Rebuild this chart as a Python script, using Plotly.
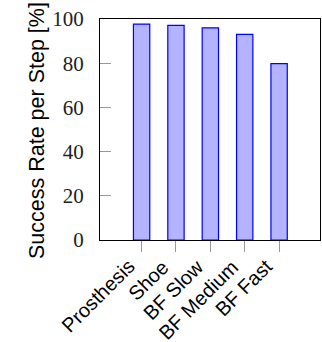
import plotly.graph_objects as go

categories = ["Prosthesis", "Shoe", "BF Slow", "BF Medium", "BF Fast"]
success_rate = [97.7, 97.1, 96.0, 93.0, 79.8]
y_ticks = [0, 20, 40, 60, 80, 100]

W, H = 322, 342
L, R, T, B = 100, 2, 19, 102
pw = W - L - R
ph = H - T - B

fig = go.Figure()
fig.add_trace(go.Bar(
    x=list(range(len(categories))),
    y=success_rate,
    width=0.475,
    marker=dict(color="rgb(179,179,255)", line=dict(color="rgb(0,0,255)", width=1.2)),
    showlegend=False,
))

annotations = [dict(
    text="Success Rate per Step [%]",
    xref="paper", yref="paper",
    x=(37 - L) / pw, y=(240 - 131) / ph,
    xanchor="center", yanchor="middle",
    textangle=-90, showarrow=False,
    font=dict(family="Liberation Sans", size=21.5, color="black"),
)]
for i, name in enumerate(categories):
    annotations.append(dict(
        text=name, xref="x", yref="paper", x=i, y=0,
        xanchor="right", yanchor="top", xshift=0, yshift=-13,
        textangle=-45, showarrow=False,
        font=dict(family="Liberation Sans", size=20, color="black"),
    ))

fig.update_layout(
    template="none",
    width=W, height=H,
    margin=dict(l=L, r=R, t=T, b=B, pad=0),
    plot_bgcolor="white", paper_bgcolor="white",
    xaxis=dict(
        automargin=False,
        range=[-1.21, 5.19],
        tickmode="array",
        tickvals=list(range(len(categories))),
        showticklabels=False,
        ticks="outside", ticklen=11, tickcolor="#999999", tickwidth=1,
        showline=True, mirror=True, linecolor="black", linewidth=1,
        showgrid=False, zeroline=False,
    ),
    yaxis=dict(
        automargin=False,
        range=[0, 100],
        tickmode="array",
        tickvals=y_ticks,
        ticktext=[str(v) for v in y_ticks],
        ticks="inside", ticklen=11, tickcolor="#999999", tickwidth=1,
        showline=True, mirror=True, linecolor="black", linewidth=1,
        showgrid=False, zeroline=False,
        ticklabelstandoff=11,
        tickfont=dict(family="Liberation Serif, DejaVu Serif, serif", size=21, color="#222222"),
    ),
    annotations=annotations,
)

fig.write_html(
    "out.html",
    config={"displayModeBar": False},
    post_script="document.body.style.margin='0';document.body.style.overflow='hidden';",
)
